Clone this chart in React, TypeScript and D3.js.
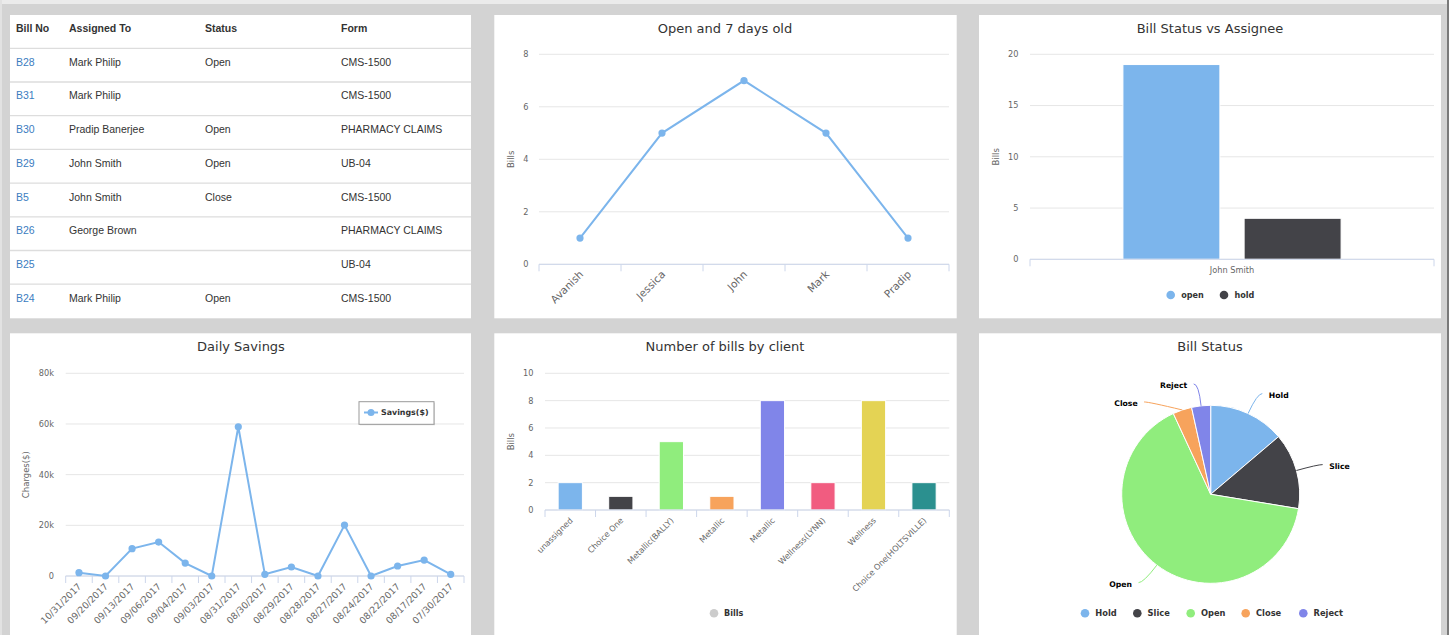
import React from "react";
import * as d3 from "d3";

// ---------- data ----------
const tableHeaders = ["Bill No", "Assigned To", "Status", "Form"];
const billNos = ["B28", "B31", "B30", "B29", "B5", "B26", "B25", "B24"];
const assignees = ["Mark Philip", "Mark Philip", "Pradip Banerjee", "John Smith", "John Smith", "George Brown", "", "Mark Philip"];
const statuses = ["Open", "", "Open", "Open", "Close", "", "", "Open"];
const forms = ["CMS-1500", "CMS-1500", "PHARMACY CLAIMS", "UB-04", "CMS-1500", "PHARMACY CLAIMS", "UB-04", "CMS-1500"];

const oldNames = ["Avanish", "Jessica", "John", "Mark", "Pradip"];
const oldBills = [1, 5, 7, 5, 1];
const oldTicks = [0, 2, 4, 6, 8];

const assigneeCats = ["John Smith"];
const assigneeSeries = ["open", "hold"];
const assigneeValues = [19, 4];
const assigneeTicks = [0, 5, 10, 15, 20];

const savingsDates = ["10/31/2017", "09/20/2017", "09/13/2017", "09/06/2017", "09/04/2017", "09/03/2017", "08/31/2017", "08/30/2017", "08/29/2017", "08/28/2017", "08/27/2017", "08/24/2017", "08/22/2017", "08/17/2017", "07/30/2017"];
const savingsValues = [1300, 0, 10800, 13400, 5100, 0, 58900, 660, 3550, 0, 20100, 0, 3950, 6300, 660];
const savingsTicks = [0, 20000, 40000, 60000, 80000];

const clients = ["unassigned", "Choice One", "Metallic(BALLY)", "Metallic", "Metallic", "Wellness(LYNN)", "Wellness", "Choice One(HOLTSVILLE)"];
const clientBills = [2, 1, 5, 1, 8, 2, 8, 2];
const clientTicks = [0, 2, 4, 6, 8, 10];

const statusNames = ["Hold", "Slice", "Open", "Close", "Reject"];
const statusCounts = [4, 4, 19, 1, 1];

const palette = ["#7cb5ec", "#434348", "#90ed7d", "#f7a35c", "#8085e9", "#f15c80", "#e4d354", "#2b908f"];

// ---------- style ----------
const FONT = "'DejaVu Sans', 'Lucida Grande', Verdana, sans-serif";
const TFONT = "'Liberation Sans', Arial, Helvetica, sans-serif";
const GRID = "#e6e6e6";
const AXIS = "#ccd6eb";
const LABEL = "#666666";
const TITLE = "#333333";

function Title({ x, y, text }: { x: number; y: number; text: string }) {
  return (
    <text x={x} y={y} textAnchor="middle" dy="0.35em" fontFamily={FONT} fontSize={13} fill={TITLE}>
      {text}
    </text>
  );
}

function YAxis({ y, ticks, left, right, fmt, labelRight, title, titleX }: any) {
  const [b, t] = y.range();
  return (
    <g>
      {ticks.map((v: number) => (
        <g key={v}>
          <line x1={left} x2={right} y1={y(v)} y2={y(v)} stroke={GRID} strokeWidth={1} />
          <text x={labelRight} y={y(v)} dy="0.35em" textAnchor="end" fontFamily={FONT} fontSize={8.2} fill={LABEL}>
            {fmt ? fmt(v) : v}
          </text>
        </g>
      ))}
      <text
        transform={`translate(${titleX},${(b + t) / 2}) rotate(-90)`}
        textAnchor="middle"
        dy="0.35em"
        fontFamily={FONT}
        fontSize={8.5}
        fill={LABEL}
      >
        {title}
      </text>
    </g>
  );
}

function XAxisLine({ x0, x1, yb, ticks }: { x0: number; x1: number; yb: number; ticks: number[] }) {
  return (
    <g>
      <line x1={x0} x2={x1} y1={yb} y2={yb} stroke={AXIS} strokeWidth={1} />
      {ticks.map((t, i) => (
        <line key={i} x1={t} x2={t} y1={yb} y2={yb + 7} stroke={AXIS} strokeWidth={1} />
      ))}
    </g>
  );
}

// ---------- panel 1: table ----------
function BillTable({ px, py, w }: { px: number; py: number; w: number }) {
  const colX = [px + 6, px + 59, px + 195, px + 331];
  const headerLine = py + 33.3;
  const rowH = 33.7;
  const rows = billNos.map((b, i) => [b, assignees[i], statuses[i], forms[i]]);
  return (
    <g fontFamily={TFONT} fontSize={10.5}>
      {tableHeaders.map((h, j) => (
        <text key={h} x={colX[j]} y={py + 13.3} dy="0.35em" fontWeight="bold" fill="#333">
          {h}
        </text>
      ))}
      {rows.map((r, i) => {
        const top = headerLine + i * rowH;
        return (
          <g key={i}>
            <line x1={px} x2={px + w} y1={top} y2={top} stroke="#dddddd" strokeWidth={1.3} />
            {r.map((c, j) => (
              <text key={j} x={colX[j]} y={top + 13.8} dy="0.35em" fill={j === 0 ? "#3b7dbf" : "#333"}>
                {c}
              </text>
            ))}
          </g>
        );
      })}
    </g>
  );
}

// ---------- panel 2: line ----------
function OpenChart() {
  const x = d3.scaleBand().domain(oldNames).range([539, 949]);
  const y = d3.scaleLinear().domain([0, 8]).range([264.3, 54.3]);
  const cx = (n: string) => (x(n) as number) + x.bandwidth() / 2;
  const line = d3
    .line<number>()
    .x((_, i) => cx(oldNames[i]))
    .y((d) => y(d));
  const ticks = [...oldNames.map((n) => x(n) as number), 949];
  return (
    <g>
      <Title x={725} y={28.3} text="Open and 7 days old" />
      <YAxis y={y} ticks={oldTicks} left={539} right={949} labelRight={528.5} title="Bills" titleX={510.7} />
      <XAxisLine x0={539} x1={949} yb={264.3} ticks={ticks} />
      <path d={line(oldBills) || ""} fill="none" stroke={palette[0]} strokeWidth={2} />
      {oldBills.map((v, i) => (
        <circle key={i} cx={cx(oldNames[i])} cy={y(v)} r={3.6} fill={palette[0]} />
      ))}
      {oldNames.map((n) => (
        <text
          key={n}
          transform={`translate(${cx(n) + 4},${275}) rotate(-45)`}
          textAnchor="end"
          fontFamily={FONT}
          fontSize={10.5}
          fill={LABEL}
        >
          {n}
        </text>
      ))}
    </g>
  );
}

// ---------- panel 3: grouped bar ----------
function AssigneeChart() {
  const x = d3.scaleBand().domain(assigneeCats).range([1030, 1434]);
  const y = d3.scaleLinear().domain([0, 20]).range([259.3, 54.3]);
  const bw = x.bandwidth();
  const inner = d3
    .scaleBand()
    .domain(assigneeSeries)
    .range([(x(assigneeCats[0]) as number) + bw * 0.2, (x(assigneeCats[0]) as number) + bw * 0.8])
    .paddingInner(0.2)
    .paddingOuter(0.1);
  const legendX = [1170.7, 1224];
  return (
    <g>
      <Title x={1210} y={28.3} text="Bill Status vs Assignee" />
      <YAxis y={y} ticks={assigneeTicks} left={1030} right={1434} labelRight={1018.5} title="Bills" titleX={996} />
      {assigneeSeries.map((s, i) => (
        <rect
          key={s}
          x={inner(s)}
          y={y(assigneeValues[i])}
          width={inner.bandwidth()}
          height={y(0) - y(assigneeValues[i])}
          fill={palette[i]}
          stroke="#fff"
          strokeWidth={1}
        />
      ))}
      <XAxisLine x0={1030} x1={1434} yb={259.3} ticks={[1030, 1434]} />
      {assigneeCats.map((c) => (
        <text key={c} x={(x(c) as number) + bw / 2} y={270.5} dy="0.35em" textAnchor="middle" fontFamily={FONT} fontSize={8.2} fill={LABEL}>
          {c}
        </text>
      ))}
      {assigneeSeries.map((s, i) => (
        <g key={s}>
          <circle cx={legendX[i]} cy={295} r={4.3} fill={palette[i]} />
          <text x={legendX[i] + 10.5} y={295} dy="0.35em" fontFamily={FONT} fontSize={8.1} fontWeight="bold" fill="#333">
            {s}
          </text>
        </g>
      ))}
    </g>
  );
}

// ---------- panel 4: savings line ----------
function SavingsChart() {
  const x = d3.scaleBand().domain(savingsDates).range([65.7, 464]);
  const y = d3.scaleLinear().domain([0, 80000]).range([576, 373.3]);
  const cx = (n: string) => (x(n) as number) + x.bandwidth() / 2;
  const line = d3
    .line<number>()
    .x((_, i) => cx(savingsDates[i]))
    .y((d) => y(d));
  const ticks = [...savingsDates.map((n) => x(n) as number), 464];
  return (
    <g>
      <Title x={241} y={346.7} text="Daily Savings" />
      <YAxis
        y={y}
        ticks={savingsTicks}
        left={65.7}
        right={464}
        labelRight={54}
        fmt={(v: number) => (v === 0 ? "0" : `${v / 1000}k`)}
        title="Charges($)"
        titleX={26}
      />
      <XAxisLine x0={65.7} x1={464} yb={576} ticks={ticks} />
      <path d={line(savingsValues) || ""} fill="none" stroke={palette[0]} strokeWidth={2} />
      {savingsValues.map((v, i) => (
        <circle key={i} cx={cx(savingsDates[i])} cy={y(v)} r={3.6} fill={palette[0]} />
      ))}
      {savingsDates.map((n) => (
        <text
          key={n}
          transform={`translate(${cx(n) + 3},${587}) rotate(-45)`}
          textAnchor="end"
          fontFamily={FONT}
          fontSize={9.2}
          fill={LABEL}
        >
          {n}
        </text>
      ))}
      <rect x={360} y={402.7} width={75} height={22.6} fill="#000" opacity={0.12} />
      <rect x={359} y={401.7} width={75} height={22.6} fill="#fff" stroke="#999" strokeWidth={1} />
      <line x1={364} x2={378} y1={412.5} y2={412.5} stroke={palette[0]} strokeWidth={2} />
      <circle cx={371} cy={412.5} r={3.5} fill={palette[0]} />
      <text x={381} y={412.5} dy="0.35em" fontFamily={FONT} fontSize={7.9} fontWeight="bold" fill="#333">
        Savings($)
      </text>
    </g>
  );
}

// ---------- panel 5: bars by client ----------
function ClientChart() {
  const x = d3
    .scaleBand<number>()
    .domain(d3.range(clients.length))
    .range([545, 949.3]);
  const xb = d3
    .scaleBand<number>()
    .domain(d3.range(clients.length))
    .range([545, 949.3])
    .paddingInner(0.52)
    .paddingOuter(0.26);
  const y = d3.scaleLinear().domain([0, 10]).range([510, 373.3]);
  const ticks = [...d3.range(clients.length).map((i) => x(i) as number), 949.3];
  return (
    <g>
      <Title x={725} y={346.7} text="Number of bills by client" />
      <YAxis y={y} ticks={clientTicks} left={545} right={949.3} labelRight={533.5} title="Bills" titleX={510.7} />
      {clientBills.map((v, i) => (
        <rect
          key={i}
          x={xb(i)}
          y={y(v)}
          width={xb.bandwidth()}
          height={y(0) - y(v)}
          fill={palette[i % palette.length]}
          stroke="#fff"
          strokeWidth={1}
        />
      ))}
      <XAxisLine x0={545} x1={949.3} yb={510} ticks={ticks} />
      {clients.map((c, i) => (
        <text
          key={i}
          transform={`translate(${(x(i) as number) + x.bandwidth() / 2 + 3},${521}) rotate(-45)`}
          textAnchor="end"
          fontFamily={FONT}
          fontSize={8.1}
          fill={LABEL}
        >
          {c}
        </text>
      ))}
      <circle cx={714} cy={613.3} r={4.3} fill="#cccccc" />
      <text x={724} y={613.3} dy="0.35em" fontFamily={FONT} fontSize={8.1} fontWeight="bold" fill="#333">
        Bills
      </text>
    </g>
  );
}

// ---------- panel 6: pie ----------
function StatusPie() {
  const cx = 1210.7;
  const cy = 494.3;
  const r = 89;
  const d = 22;
  const arcs = d3.pie<number>().sort(null)(statusCounts);
  const arc = d3.arc<d3.PieArcDatum<number>>().innerRadius(0).outerRadius(r);
  const items = arcs.map((a, i) => {
    const mid = (a.startAngle + a.endAngle) / 2;
    return {
      i,
      side: Math.sin(mid) >= 0 ? 1 : -1,
      ex: cx + r * Math.sin(mid),
      ey: cy - r * Math.cos(mid),
      ly: cy - (r + d) * Math.cos(mid),
      lx: 0,
    };
  });
  [1, -1].forEach((s) => {
    const list = items.filter((it) => it.side === s).sort((a, b) => a.ly - b.ly);
    for (let k = 1; k < list.length; k++) {
      if (list[k].ly < list[k - 1].ly + 18) list[k].ly = list[k - 1].ly + 18;
    }
  });
  items.forEach((it) => {
    const dy = it.ly - cy;
    const R = r + d;
    it.lx = cx + it.side * Math.sqrt(Math.max(0, R * R - dy * dy));
  });
  const legendX = [1085, 1137.3, 1190.7, 1245.7, 1303.3];
  return (
    <g>
      <Title x={1210} y={346.7} text="Bill Status" />
      <g transform={`translate(${cx},${cy})`}>
        {arcs.map((a, i) => (
          <path key={i} d={arc(a) || ""} fill={palette[i]} stroke="#fff" strokeWidth={1} />
        ))}
      </g>
      {items.map((it) => (
        <g key={it.i}>
          <path
            d={`M${it.ex},${it.ey} Q${it.lx},${it.ly} ${it.lx + it.side * 5},${it.ly}`}
            fill="none"
            stroke={palette[it.i]}
            strokeWidth={1}
          />
          <text
            x={it.lx + it.side * 11.5}
            y={it.ly + 1.5}
            dy="0.35em"
            textAnchor={it.side > 0 ? "start" : "end"}
            fontFamily={FONT}
            fontSize={7.7}
            fontWeight="bold"
            fill="#000"
            stroke="#fff"
            strokeWidth={2}
            paintOrder="stroke"
            strokeLinejoin="round"
          >
            {statusNames[it.i]}
          </text>
        </g>
      ))}
      {statusNames.map((n, i) => (
        <g key={n}>
          <circle cx={legendX[i]} cy={613.3} r={4.3} fill={palette[i]} />
          <text x={legendX[i] + 10.3} y={613.3} dy="0.35em" fontFamily={FONT} fontSize={8.3} fontWeight="bold" fill="#333">
            {n}
          </text>
        </g>
      ))}
    </g>
  );
}

export default function App() {
  const W = 1449;
  const H = 635;
  const panels = [
    { x: 10, y: 15, w: 461, h: 303.3 },
    { x: 494.3, y: 15, w: 462.4, h: 303.3 },
    { x: 979, y: 15, w: 462, h: 303.3 },
    { x: 10, y: 333.3, w: 461, h: 310 },
    { x: 494.3, y: 333.3, w: 462.4, h: 310 },
    { x: 979, y: 333.3, w: 462, h: 310 },
  ];
  return (
    <svg width={W} height={H} style={{ position: "absolute", left: 0, top: 0, display: "block" }}>
      <rect x={0} y={0} width={W} height={H} fill="#d3d3d3" />
      <rect x={0} y={0} width={W} height={4} fill="#ebebeb" />
      <rect x={0} y={0} width={2} height={H} fill="#e2e2e2" />
      <rect x={1447} y={0} width={2} height={H} fill="#7a7a7a" />
      {panels.map((p, i) => (
        <rect key={i} x={p.x} y={p.y} width={p.w} height={p.h} fill="#fff" />
      ))}
      <BillTable px={10} py={15} w={461} />
      <OpenChart />
      <AssigneeChart />
      <SavingsChart />
      <ClientChart />
      <StatusPie />
    </svg>
  );
}
